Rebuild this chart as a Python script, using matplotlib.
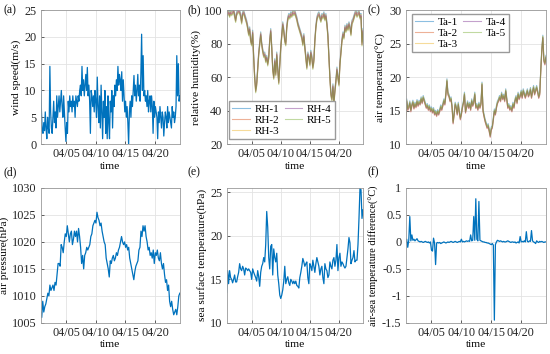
import matplotlib
matplotlib.use("Agg")
import matplotlib.pyplot as plt
import numpy as np

plt.rcParams['font.family'] = ['Liberation Serif', 'DejaVu Serif']

T0, T1 = 0.7, 24.2                      # time span, day of April
day_ticks = [5, 10, 15, 20]
day_labels = ['04/05', '04/10', '04/15', '04/20']

# wind speed (m/s), 3-hourly
wind = [12, 6, 2.5, 2, 4, 2.5, 6, 3,
        1, 5, 3, 2, 14.5, 6, 3, 2,
        5, 8, 4, 6, 3, 9, 5, 7,
        9, 6, 8, 10, 7, 5, 9, 6,
        3, 0.5, 4, 2, 8, 6, 9, 7,
        8, 6, 9, 7, 8, 5, 9, 8,
        7, 9, 8, 10, 11, 9, 14.5, 10,
        12, 9, 11, 13, 10, 14.3, 9, 11,
        8, 2, 10, 9, 7, 9, 6, 10,
        8, 5, 12.5, 7, 4, 9, 3, 11,
        6, 1, 8, 5, 10, 2, 7, 1,
        9, 4, 1, 8, 6, 10, 3, 9,
        7, 11, 9, 12, 10, 14.5, 11, 13,
        12, 10, 13.5, 8, 12, 9, 6, 8,
        5, 7, 4, 0, 6, 8, 5, 9,
        7, 10, 12.8, 9, 11, 8, 10, 13,
        9, 11, 8, 13, 20.5, 10, 16.5, 9,
        10, 8, 9, 7, 10, 6, 8, 9,
        6, 9, 7, 2, 8, 5, 7, 6,
        5, 1, 6, 4, 7, 5, 3, 6,
        5, 1.5, 4, 6, 5, 3, 7, 4,
        6, 5, 4, 3, 7, 5, 6, 4,
        5, 7, 16.5, 9, 15, 8, 9]

# relative humidity (%), 4-hourly, mean of the sensors
rh = [99, 98, 99, 97, 99, 98,
      99, 100, 97, 94, 98, 99,
      100, 99, 97, 93, 98, 99,
      97, 95, 93, 90, 86, 89,
      82, 80, 87, 72, 60, 52,
      56, 65, 74, 80, 86, 80,
      76, 73, 74, 70, 72, 68,
      72, 82, 88, 78, 65, 60,
      70, 62, 74, 65, 57, 68,
      78, 85, 92, 88, 82, 80,
      90, 95, 97, 96, 98, 97,
      99, 98, 99, 97, 95, 92,
      90, 88, 86, 84, 80, 85,
      78, 72, 66, 74, 72, 68,
      75, 72, 66, 70, 82, 90,
      95, 97, 98, 96, 94, 97,
      96, 98, 95, 97, 92, 85,
      72, 60, 50, 47, 55, 45,
      52, 58, 65, 60, 56, 68,
      75, 82, 86, 84, 90, 88,
      91, 89, 92, 90, 86, 93,
      94, 96, 98, 99, 97, 98,
      99, 96, 97, 80, 88]
rh_names = ['RH-1', 'RH-2', 'RH-3', 'RH-4', 'RH-5']
rh_bias = [1.0, -0.8, 0.4, -0.3, -1.4]

# air temperature (degC), 4-hourly
ta = [13.8, 16.5, 15.2, 15.5, 16.2, 15.0,
      15.8, 16.3, 15.4, 16.0, 15.6, 16.4,
      15.8, 16.3, 16.0, 16.8, 16.2, 17.0,
      16.5, 16.0, 15.5, 15.8, 15.2, 15.6,
      15.0, 15.3, 14.8, 15.2, 14.5, 14.8,
      14.3, 14.9, 14.5, 15.0, 15.6, 15.2,
      15.8, 16.5, 16.0, 17.5, 19.5, 17.5,
      17.2, 16.5, 16.8, 15.5, 13.2, 14.5,
      16.0, 15.5, 14.5, 16.0, 14.8, 13.8,
      14.5, 15.5, 16.2, 17.5, 14.8, 15.5,
      16.2, 15.5, 16.0, 15.2, 16.5, 15.8,
      16.2, 17.5, 15.5, 15.8, 15.2, 16.0,
      15.5, 16.0, 19.0, 15.0, 14.2, 13.5,
      13.0, 12.5, 12.8, 12.0, 11.2, 12.3,
      12.5, 13.8, 15.0, 14.5, 15.5, 16.2,
      16.5, 17.0, 16.5, 17.5, 16.8, 17.2,
      16.5, 18.0, 16.8, 15.5, 15.8, 15.2,
      15.5, 15.0, 16.0, 15.5, 16.5, 17.0,
      16.2, 17.5, 16.8, 17.2, 17.8, 17.0,
      18.0, 17.5, 17.0, 17.5, 18.0, 17.2,
      17.5, 18.2, 17.0, 17.8, 18.5, 17.5,
      18.0, 18.5, 17.8, 17.0, 17.5, 21.0,
      24.0, 26.0, 22.5, 22.0, 23.0]
ta_names = ['Ta-1', 'Ta-2', 'Ta-3', 'Ta-4', 'Ta-5']
ta_bias = [0.25, -0.2, 0.1, -0.1, 0.0]

# air pressure (hPa), 4-hourly
pres = [1007, 1006, 1009, 1007, 1008, 1008.5,
        1009.5, 1010.5, 1010, 1012, 1011, 1011.5,
        1012, 1011, 1012.5, 1012, 1014, 1016,
        1016, 1015.5, 1019.5, 1019, 1018, 1020,
        1021.5, 1021, 1023, 1021.5, 1020, 1021.5,
        1022, 1019.5, 1020.5, 1022, 1021, 1022,
        1020, 1022.5, 1021, 1019, 1016, 1017.5,
        1015, 1017.5, 1018, 1019, 1018.5, 1019,
        1019.5, 1021, 1021.5, 1023, 1023.5, 1024,
        1023.5, 1025.5, 1024.5, 1024, 1023, 1023.5,
        1022, 1021, 1020, 1019.5, 1017, 1016,
        1015, 1013.5, 1016.5, 1016, 1017, 1017.5,
        1016.5, 1017, 1018, 1017.5, 1018.5, 1019,
        1020, 1021, 1020, 1019.5, 1020, 1019,
        1019.5, 1018.5, 1019, 1017, 1016, 1015,
        1014, 1013, 1014.5, 1015.5, 1016, 1016.5,
        1018.5, 1019, 1022, 1021, 1023, 1022,
        1023, 1021, 1020, 1018.5, 1019, 1017.5,
        1018, 1017, 1018.5, 1016, 1018, 1017.5,
        1018.5, 1017, 1016.5, 1018, 1016, 1015,
        1016, 1014, 1012.5, 1013, 1011, 1012,
        1009, 1008, 1009, 1007.5, 1006.5, 1007,
        1007.5, 1006.5, 1008, 1010, 1010.5]

# sea surface temperature, 4-hourly
sst = [13.5, 16, 14.5, 16, 15.2, 15, 14.6, 15, 15.5, 14.7, 14.7, 15.3,
       15.8, 16.8, 16.2, 16, 16.5, 16.2, 15.5, 16.3, 16.2, 16, 16.2, 16,
       15.8, 15, 16.2, 15.8, 15.5, 15.2, 14.8, 16, 15.3, 14.2, 15.8, 16.5,
       16.8, 17.5, 17, 19, 22.8, 21, 17.5, 16.2, 18.8, 19, 15.5, 18.5,
       17.5, 17, 18, 15.5, 14.5, 13.2, 12.8, 13.2, 13.8, 14.8, 16.5, 14.5,
       15, 15.3, 14.6, 14.3, 15, 14.8, 14.5, 14.8, 14.5, 14.8, 14.3, 14.2,
       14, 15.2, 15.8, 16.5, 17.4, 17, 16.5, 16.8, 17, 15.2, 14.5, 16.8,
       16.5, 16, 17.2, 16.5, 15.8, 16.8, 17.5, 17, 16.5, 15.5, 16.2, 16.5,
       15.2, 14.5, 16.8, 16.2, 16, 15.2, 15.5, 17, 16.5, 16.2, 17.2, 17.5,
       16.5, 17.2, 19, 16, 17.5, 18, 16.5, 17, 16.8, 16.5, 16.3, 16.5,
       17.5, 18.5, 19.8, 19.2, 16.8, 17.2, 17.5, 18.3, 17, 17.2, 17.2, 19,
       22, 25.5, 25.3, 22, 23]

# air-sea temperature difference (degC)
dts = [0.0, 0.05, -0.1, 0.03, 0.47, 0.02, 0.13, 0.03, 0.05, 0.02, 0.04, 0.06,
       0.02, 0.01, 0.0, 0.01, 0.0, -0.01, 0.0, 0.01, 0.0, -0.01, 0.0, -0.02,
       0.0, -0.15, -0.17, 0.07, -0.02, -0.42, -0.02, -0.01, -0.02, -0.01, -0.03, -0.02,
       -0.01, 0.0, -0.01, -0.02, -0.01, 0.0, -0.01, 0.0, 0.01, 0.0, -0.01, 0.0,
       0.01, 0.0, -0.01, 0.0, 0.01, 0.0, 0.05, 0.0, 0.01, 0.0, 0.01, 0.02,
       0.01, 0.02, 0.01, 0.13, 0.02, 0.03, 0.47, 0.03, 0.8, 0.05, 0.02, 0.75,
       0.03, 0.02, 0.01, 0.0, 0.0, -0.01, -0.01, -0.02, -0.02, -0.03, -0.04, -0.05,
       -0.03, -0.06, -1.45, -0.05, 0.0, 0.03, 0.02, 0.01, 0.02, 0.01, 0.0, 0.01,
       0.0, 0.0, 0.01, 0.02, 0.01, 0.0, -0.01, 0.0, 0.0, -0.01, 0.0, -0.02,
       -0.01, 0.0, -0.02, 0.1, 0.0, 0.01, 0.0, 0.02, 0.0, 0.19, 0.01, 0.0,
       0.02, 0.01, 0.21, 0.02, 0.0, -0.01, -0.03, 0.02, 0.0, -0.01, 0.01, 0.0,
       0.01, 0.0, -0.01, 0.0, 0.0]

BLUE = '#0072BD'
SENSOR_COLORS = ['#0072BD', '#D95319', '#EDB120', '#7E2F8E', '#77AC30']


def time_axis(values):
    return np.linspace(T0, T1, len(values))


def style(ax, ylim, yticks, ylabel, yticklabels=None, ylabel_size=8.2):
    ax.set_xlim(T0, T1)
    ax.set_ylim(*ylim)
    ax.set_xticks(day_ticks)
    ax.set_xticklabels(day_labels)
    ax.set_yticks(yticks)
    if yticklabels is not None:
        ax.set_yticklabels(yticklabels)
    ax.grid(True, color='#e3e3e3', linewidth=0.6)
    ax.set_axisbelow(True)
    ax.tick_params(direction='in', length=2.5, width=0.5, labelsize=8.8,
                   colors='#262626', pad=3)
    for s in ax.spines.values():
        s.set_color('#9a9a9a')
        s.set_linewidth(0.6)
    ax.set_xlabel('time', fontsize=8.2, labelpad=1)
    ax.set_ylabel(ylabel, fontsize=ylabel_size, labelpad=2)


def sensor_legend(ax, loc, anchor):
    ax.legend(ncol=2, loc=loc, fontsize=8, frameon=True, fancybox=False,
              edgecolor='#9a9a9a', framealpha=1, handlelength=1.6,
              handletextpad=0.4, columnspacing=0.5, labelspacing=0.1,
              borderpad=0.3, borderaxespad=0.2, bbox_to_anchor=anchor)


fig = plt.figure(figsize=(5.5, 3.54), dpi=100)
lefts = [0.074, 0.412, 0.7376]
widths = [0.253, 0.248, 0.255]
top_b, top_h = 0.593, 0.3785
bot_b, bot_h = 0.088, 0.381

ax_a = fig.add_axes([lefts[0], top_b, widths[0], top_h])
ax_b = fig.add_axes([lefts[1], top_b, widths[1], top_h])
ax_c = fig.add_axes([lefts[2], top_b, widths[2], top_h])
ax_d = fig.add_axes([lefts[0], bot_b, widths[0], bot_h])
ax_e = fig.add_axes([lefts[1], bot_b, widths[1], bot_h])
ax_f = fig.add_axes([lefts[2], bot_b, widths[2], bot_h])

# (a)
ax_a.plot(time_axis(wind), wind, color=BLUE, lw=0.9)
style(ax_a, (0, 25), [0, 5, 10, 15, 20, 25], 'wind speed(m/s)')

# (b)
t_rh = time_axis(rh)
for name, b, c in zip(rh_names, rh_bias, SENSOR_COLORS):
    ax_b.plot(t_rh, np.array(rh) + b, color=c, lw=0.8, alpha=0.45, label=name)
style(ax_b, (20, 100), [20, 40, 60, 80, 100], 'relative humidity(%)')
sensor_legend(ax_b, 'lower left', (0.0, 0.02))

# (c)
t_ta = time_axis(ta)
for name, b, c in zip(ta_names, ta_bias, SENSOR_COLORS):
    ax_c.plot(t_ta, np.array(ta) + b, color=c, lw=0.8, alpha=0.45, label=name)
style(ax_c, (10, 30), [10, 15, 20, 25, 30], 'air temperature(°C)')
sensor_legend(ax_c, 'upper left', (0.03, 0.99))

# (d)
ax_d.plot(time_axis(pres), pres, color=BLUE, lw=0.9)
style(ax_d, (1005, 1030), [1005, 1010, 1015, 1020, 1025, 1030], 'air pressure(hPa)')

# (e)
ax_e.plot(time_axis(sst), sst, color=BLUE, lw=0.9)
style(ax_e, (10, 25.5), [10, 15, 20, 25], 'sea surface temperature(hPa)')

# (f)
ax_f.plot(time_axis(dts), dts, color=BLUE, lw=0.9)
style(ax_f, (-1.5, 1), [-1.5, -1, -0.5, 0, 0.5, 1],
      'air-sea temperature difference(°C)',
      ['-1.5', '-1', '-0.5', '0', '0.5', '1'], ylabel_size=7.4)

for x, y, s in [(0.006, 0.972, '(a)'), (0.34, 0.972, '(b)'), (0.668, 0.972, '(c)'),
                (0.006, 0.512, '(d)'), (0.34, 0.512, '(e)'), (0.668, 0.512, '(f)')]:
    fig.text(x, y, s, fontsize=8.5, va='center', ha='left', color='#111111')

fig.savefig('out.png', dpi=100)
